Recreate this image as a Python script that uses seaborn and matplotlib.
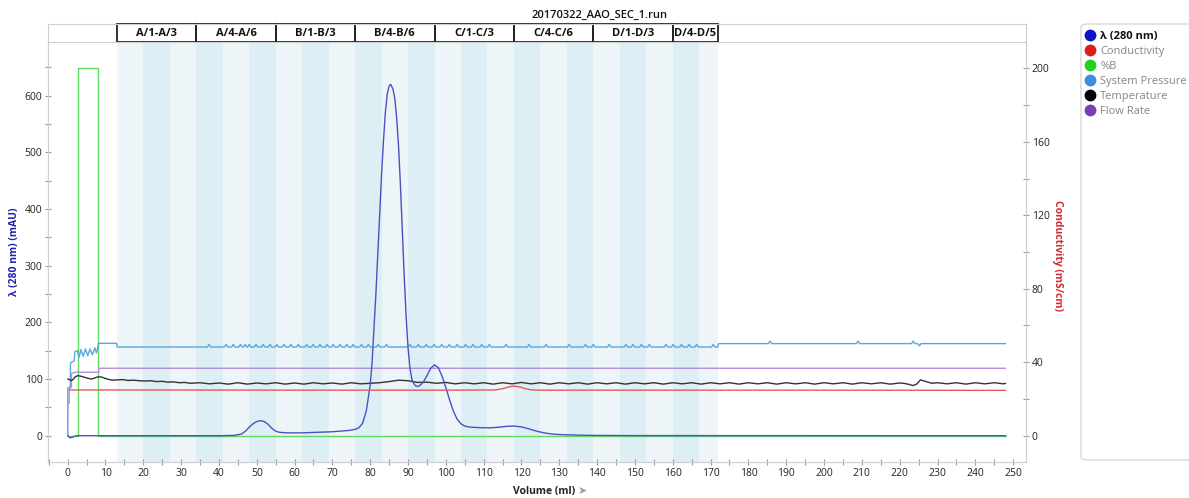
import numpy as np
import pandas as pd
import matplotlib
matplotlib.use("Agg")
import matplotlib.pyplot as plt
import seaborn as sns
from matplotlib.patches import Rectangle, FancyBboxPatch
from matplotlib.lines import Line2D
from matplotlib.ticker import MultipleLocator

sns.set_theme(style="white")
plt.rcParams["font.family"] = ["Open Sans", "DejaVu Sans"]

# ---------------- data ----------------
title = "20170322_AAO_SEC_1.run"
group_labels = ["A/1-A/3", "A/4-A/6", "B/1-B/3", "B/4-B/6",
                "C/1-C/3", "C/4-C/6", "D/1-D/3", "D/4-D/5"]
group_edges = [13, 34, 55, 76, 97, 118, 139, 160, 172]
fraction_edges = [13, 20, 27, 34, 41, 48, 55, 62, 69, 76, 83, 90, 97, 104,
                  111, 118, 125, 132, 139, 146, 153, 160, 167, 172]

legend_names = ["λ (280 nm)", "Conductivity", "%B", "System Pressure",
                "Temperature", "Flow Rate"]

# UV 280 nm (mAU)
uv_vol = [0, 0.3, 0.6, 1.2, 1.8, 2.5, 10, 20, 30, 40, 44, 46, 47, 48, 49, 50,
          51, 52, 53, 54, 55, 56, 58, 62, 66, 70, 74, 76, 77, 78, 79, 80,
          80.5, 81, 81.5, 82, 82.5, 83, 83.5, 84, 84.5, 85, 85.4, 86, 86.5,
          87, 87.5, 88, 88.5, 89, 89.5, 90, 90.5, 91, 91.5, 92, 92.5, 93, 94,
          95, 96, 97, 98, 99, 100, 101, 102, 103, 104, 105, 106, 108, 110,
          112, 114, 116, 118, 120, 122, 124, 126, 128, 130, 135, 140, 150, 248]
uv_mau = [0, -2, -3.5, -3, -1, 0, 0, 0, 0, 0, 0.5, 3, 8, 15, 21, 25,
          26.5, 25, 20, 13, 8, 6, 5, 5, 6, 7, 9, 11, 14, 22, 45, 90,
          130, 190, 250, 320, 390, 460, 520, 570, 603, 617, 620, 612, 595,
          560, 510, 440, 360, 280, 210, 155, 120, 100, 92, 88, 87, 88, 94,
          106, 119, 125, 120, 105, 85, 63, 43, 29, 21, 17, 15.5, 14.5, 14,
          14, 15, 16.5, 17, 15.5, 12, 8, 5, 3, 2, 1, 0.5, 0.2, 0]

# Conductivity (mS/cm), right axis
cond_vol = [0.5, 20, 60, 100, 113, 115, 116.5, 118, 119.5, 121, 122.5, 125, 160, 200, 248]
cond_ms = [24.9, 24.9, 24.8, 24.8, 24.9, 25.6, 26.5, 27.0, 26.6, 25.6, 25.0, 24.8, 24.8, 24.8, 24.7]

# %B (drawn in left-axis display units)
pb_vol = [0, 2.8, 2.8, 8.0, 8.0, 248]
pb_val = [0, 0, 648, 648, 0, 0]

# Flow rate (left-axis display units)
flow_vol = [0, 0, 0.4, 0.4, 1.0, 1.0, 2.0, 8.2, 8.2, 248]
flow_val = [0, 57, 57, 86, 86, 110, 112, 112, 119, 119]

# System pressure (left-axis display units)
press_start_vol = [0, 0.05, 0.7, 0.75, 1.1, 1.7, 1.9, 2.6, 3.0, 3.5, 4.1, 4.7,
                   5.3, 5.9, 6.5, 7.2, 7.6, 8.0, 8.1, 12.9]
press_start_val = [0, 84, 84, 128, 130, 132, 148, 150, 138, 152, 140, 153,
                   141, 153, 143, 155, 146, 156, 163, 163]
press_base_1 = 156.5          # 13 .. 172 ml
press_base_2 = 162.5          # 172 .. 248 ml
press_spike_vol = [37.4, 41.9, 43.8, 45.7, 46.9, 48.0, 49.8, 51.7, 53.5, 55.3,
                   57.2, 59.0, 61.0, 63.2, 64.9, 66.7, 68.6, 70.2, 72.0, 73.8,
                   75.5, 77.7, 79.5, 82.1, 84.3, 90.5, 92.7, 94.8, 96.9, 98.9,
                   100.9, 103.0, 105.2, 107.2, 109.5, 111.5, 115.9, 122.0,
                   126.5, 132.6, 136.9, 139.0, 143.2, 147.6, 149.5, 151.7,
                   153.8, 158.2, 160.1, 162.3, 164.3, 166.3, 170.7,
                   185.7, 209.0, 223.6, 225.2]
press_spike_h = [4.5] * 56 + [-4.0]

# Temperature (left-axis display units)
temp_vol = [0, 0.5, 1, 1.5, 2, 2.7, 3.5, 4.5, 5.5, 6.3, 7.2, 8, 9, 10, 11, 12,
            13, 14.5, 16, 17.5, 19, 20.5, 22, 23.5, 25, 26.5, 28, 29.5, 31, 32.5,
            35, 37.5, 40, 42.5, 45, 47.5, 50, 52.5, 55, 57.5, 60, 62.5, 65, 67.5,
            70, 72.5, 75, 77.5, 80, 82.5, 85, 87.5, 90, 92.5, 95,
            97.5, 100, 102.5, 105, 107.5, 110, 112.5, 115, 117.5, 120, 122.5,
            125, 127.5, 130, 132.5, 135, 137.5, 140, 142.5, 145, 147.5, 150,
            152.5, 155, 157.5, 160, 162.5, 165, 167.5, 170, 172.5, 175, 177.5,
            180, 182.5, 185, 187.5, 190, 192.5, 195, 197.5, 200, 202.5, 205,
            207.5, 210, 212.5, 215, 217.5, 220, 221, 222.5, 223.5, 224.5, 225.5,
            227, 228.5, 230, 232.5, 235, 237.5, 240, 242.5, 245, 247.5, 248]
temp_val = [100, 99, 97, 100, 104, 106, 105, 103, 101, 100, 102, 104, 103.5, 101, 99, 98,
            98.5, 99, 97.5, 98, 97, 96.5, 97, 95.5, 96, 94.5, 95, 93.5, 94, 92.5,
            93.5, 91.5, 93, 91, 93.5, 91, 93, 91.5, 93.5, 91, 93, 91, 93.5, 91.5,
            93, 91, 93.5, 91.5, 92.5, 93.5, 95.5, 98, 97, 94, 94.5,
            92.5, 94, 91.5, 93.5, 91.5, 93.5, 91, 93.5, 91.5, 94, 91.5,
            93.5, 91, 93.5, 91.5, 93.5, 91, 93.5, 91.5, 93.5, 91, 93.5,
            91.5, 93.5, 91, 93.5, 91.5, 93.5, 91, 93.5, 91.5, 93.5, 91,
            93.5, 91.5, 93.5, 91, 93.5, 91.5, 93.5, 91, 93.5, 91.5, 93.5,
            91, 93.5, 91.5, 93.5, 91, 93, 92.5, 90.5, 88.5, 91, 98.5,
            95.5, 92.5, 93.5, 91.5, 93.5, 91, 93.5, 91.5, 93.5, 91.5, 92.5]

# ---------------- build pressure polyline from read spikes ----------------
p_x = list(press_start_vol)
p_y = list(press_start_val)
p_x += [13.1]
p_y += [press_base_1]
for c, h in zip(press_spike_vol, press_spike_h):
    base = press_base_1 if c < 172 else press_base_2
    if c > 172 and p_x[-1] < 172:
        p_x += [171.9, 172.1]
        p_y += [press_base_1, press_base_2]
    p_x += [c - 0.45, c, c + 0.45]
    p_y += [base, base + h, base]
p_x += [248]
p_y += [press_base_2]

# ---------------- figure ----------------
W, H = 1189, 498
fig = plt.figure(figsize=(W / 100, H / 100), dpi=100)
fig.patch.set_facecolor("white")

L, R, B, T = 48, 1026, 462, 42
ax = fig.add_axes([L / W, 1 - B / H, (R - L) / W, (B - T) / H])
hdr = fig.add_axes([L / W, 1 - T / H, (R - L) / W, 18 / H])

XMIN, XMAX = -5.2, 253.4
ax.set_xlim(XMIN, XMAX)
ax.set_ylim(-46.4, 694.7)

# fraction stripes
light, dark = "#edf5f9", "#ddeef5"
for i in range(len(fraction_edges) - 1):
    ax.axvspan(fraction_edges[i], fraction_edges[i + 1],
               color=dark if i % 2 else light, lw=0, zorder=0)

lw = 1.0
kw = dict(estimator=None, sort=False, legend=False, ax=ax)
sns.lineplot(x=pb_vol, y=pb_val, color="#5fdc5f", lw=lw, **kw)
sns.lineplot(x=p_x, y=p_y, color="#5aa7dc", lw=lw, **kw)
sns.lineplot(x=flow_vol, y=flow_val, color="#b48ddc", lw=lw, **kw)
sns.lineplot(x=temp_vol, y=temp_val, color="#333333", lw=lw, **kw)
sns.lineplot(x=uv_vol, y=uv_mau, color="#4a52c2", lw=lw, **kw)

ax2 = ax.twinx()
ax2.set_ylim(-14.3, 214.3)
sns.lineplot(x=cond_vol, y=cond_ms, color="#e25a5a", lw=lw, estimator=None,
             sort=False, legend=False, ax=ax2)
ax2.set_xlim(XMIN, XMAX)

# axes styling
for a in (ax, ax2):
    a.set_xlabel("")
    a.set_ylabel("")
    for s in a.spines.values():
        s.set_color("#cfcfcf")
        s.set_linewidth(0.8)
    a.grid(False)
ax.spines["top"].set_visible(False)
ax2.spines["top"].set_visible(False)

ax.xaxis.set_major_locator(MultipleLocator(10))
ax.xaxis.set_minor_locator(MultipleLocator(5))
ax.yaxis.set_major_locator(MultipleLocator(100))
ax.yaxis.set_minor_locator(MultipleLocator(50))
ax2.yaxis.set_major_locator(MultipleLocator(40))
ax2.yaxis.set_minor_locator(MultipleLocator(20))
for a in (ax, ax2):
    a.tick_params(which="both", direction="inout", length=4, width=0.8,
                  color="#9a9a9a", labelsize=7.5, labelcolor="#222222", pad=2)
ax.tick_params(axis="x", which="both", bottom=True, labelbottom=True)
ax.tick_params(axis="y", which="both", left=True)
ax2.tick_params(axis="y", which="both", right=True)

# header band
hdr.set_xlim(XMIN, XMAX)
hdr.set_ylim(0, 1)
hdr.set_xticks([])
hdr.set_yticks([])
for s in hdr.spines.values():
    s.set_color("#cfcfcf")
    s.set_linewidth(0.8)
hdr.set_facecolor("white")
for i, lab in enumerate(group_labels):
    x0, x1 = group_edges[i], group_edges[i + 1]
    hdr.add_patch(Rectangle((x0, 0.02), x1 - x0, 0.96, fill=False,
                            ec="#222222", lw=1.3, clip_on=False))
    hdr.text((x0 + x1) / 2, 0.47, lab, ha="center", va="center",
             fontsize=8, fontweight="bold", color="#111111")

# texts
fig.text(600 / W, 1 - 15 / H, title, ha="center", va="center", fontsize=8,
         fontweight="semibold", color="#111111")
fig.text(15 / W, 1 - 252 / H, "λ (280 nm) (mAU)", rotation=90, ha="center",
         va="center", fontsize=7.5, fontweight="bold", color="#2222aa")
fig.text(1058 / W, 1 - 256 / H, "Conductivity (mS/cm)", rotation=270,
         ha="center", va="center", fontsize=7.5, fontweight="bold",
         color="#d42a2a")
fig.text(544 / W, 1 - 491 / H, "Volume (ml)", ha="center", va="center",
         fontsize=7.5, fontweight="bold", color="#222222")
fig.text(582 / W, 1 - 491 / H, "➤", ha="center", va="center", fontsize=8,
         color="#a0a0a0", family=["DejaVu Sans"])

# legend panel
fig.patches.append(FancyBboxPatch((1081 / W, 1 - 460 / H), 0.2, 436 / H,
                                  boxstyle="round,pad=0,rounding_size=0.006",
                                  transform=fig.transFigure, fc="white",
                                  ec="#d5d5d5", lw=0.9, zorder=0))
leg_colors = ["#0a14c8", "#e01b1b", "#22d022", "#3a8fe0", "#050505", "#7c3db8"]
handles = [Line2D([], [], ls="", marker="o", markersize=7.5, color=c,
                  markeredgecolor=c) for c in leg_colors]
leg = fig.legend(handles, legend_names, loc="upper left",
                 bbox_to_anchor=(1083 / W, 1 - 29 / H), frameon=False,
                 fontsize=8, handlelength=0.9, handletextpad=0.45,
                 labelspacing=0.35, borderaxespad=0, borderpad=0.2)
for i, t in enumerate(leg.get_texts()):
    if i == 0:
        t.set_fontweight("bold")
        t.set_color("#111111")
    else:
        t.set_color("#858585")

fig.savefig("out.png", dpi=100)
